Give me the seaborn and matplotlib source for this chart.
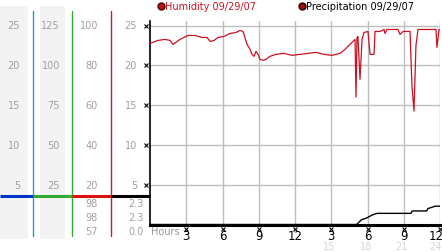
import matplotlib
matplotlib.use('Agg')
import matplotlib.pyplot as plt
import seaborn as sns
import pandas as pd
from matplotlib.patches import Rectangle
from matplotlib.lines import Line2D
from matplotlib.transforms import blended_transform_factory

sns.set_style('white')
plt.rcParams['font.family'] = ['DejaVu Sans']

# ---------------- data ----------------
hum_hours = [0.0, 0.66, 1.24, 1.66, 1.9, 2.48, 3.14, 3.72, 4.3, 4.72, 4.97, 5.3, 5.63,
             6.12, 6.62, 7.12, 7.45, 7.7, 8.03, 8.28, 8.44, 8.61, 8.77, 8.94, 9.1, 9.35,
             9.6, 9.93, 10.43, 11.09, 11.75, 12.41, 13.08, 13.74, 14.4, 15.06, 15.72,
             16.14, 16.55, 16.8, 16.97, 17.05, 17.13, 17.21, 17.38, 17.55, 17.71, 18.04,
             18.21, 18.54, 18.62, 19.03, 19.37, 19.45, 19.61, 20.52, 20.69, 20.94, 21.52,
             21.68, 21.85, 22.01, 22.18, 23.67, 23.75, 23.92, 24.0]
hum_values = [91, 92.5, 93, 92.5, 90.5, 93, 95, 95, 94, 94, 92, 92.5, 94,
              94.5, 96, 96.5, 97.5, 97, 90.5, 88, 85.5, 84.5, 87, 85.5, 83, 82.5,
              83, 84.5, 85.5, 86, 85, 85.5, 86, 86.5, 85.5, 85, 86,
              88, 90.5, 92, 93, 64, 94, 94.5, 73, 93, 96.5, 97,
              85.5, 85.5, 97, 97, 98, 96, 98, 98, 95.5, 97, 97,
              69.5, 57, 90, 98, 98, 89, 98, 98]

precip_hours = [0.0, 17.1, 17.5, 17.9, 18.4, 18.8, 21.6, 21.7, 22.9, 23.0, 23.6, 24.0]
precip_values = [0.0, 0.0, 0.6, 0.8, 1.2, 1.4, 1.4, 1.7, 1.7, 2.0, 2.3, 2.3]

hour_ticks = [3, 6, 9, 12, 15, 18, 21, 24]
hour_labels = ['3', '6', '9', '12', '3', '6', '9', '12']
pm_ticks = [15, 18, 21, 24]
scale_ticks = [25, 20, 15, 10, 5]
col1_labels = ['25', '20', '15', '10', '5']
col2_labels = ['125', '100', '75', '50', '25']
col3_labels = ['100', '80', '60', '40', '20']
col4_labels = ['25', '20', '15', '10', '5']
hum_stats = ['98', '98', '57']
precip_stats = ['2.3', '2.3', '0.0']
legend_labels = ['Humidity 09/29/07', 'Precipitation 09/29/07']

# ---------------- layout ----------------
W, H = 442, 253
fig = plt.figure(figsize=(W / 100, H / 100), dpi=100)
y0_px, ytop_px = 225.5, 22.0
ppu = 7.96
ytop = (y0_px - ytop_px) / ppu


def fx(px):
    return px / W


def fy(py):
    return 1 - py / H


def py2d(py):
    return (y0_px - py) / ppu


ax = fig.add_axes([fx(150), fy(y0_px), 290 / W, (y0_px - ytop_px) / H])
ax.set_xlim(0, 24)
ax.set_ylim(0, ytop)
ax.set_xticks(hour_ticks)
ax.set_yticks(scale_ticks)
ax.set_xticklabels([])
ax.set_yticklabels([])
ax.tick_params(length=0)
ax.grid(True, color='#bdbdbd', lw=1)
for s in ['top', 'right']:
    ax.spines[s].set_visible(False)
ax.spines['left'].set_color('black')
ax.spines['left'].set_linewidth(1.2)
ax.spines['bottom'].set_color('black')
ax.spines['bottom'].set_linewidth(2.2)
ax.set_facecolor('white')

df_p = pd.DataFrame({'hour': precip_hours, 'precip': precip_values})
sns.lineplot(data=df_p, x='hour', y='precip', ax=ax, color='black', lw=1.0,
             estimator=None, sort=False, zorder=5)
ax.set_xlabel('')
ax.set_ylabel('')

ax2 = ax.twinx()
ax2.set_ylim(0, ytop * 4)
df_h = pd.DataFrame({'hour': hum_hours, 'hum': hum_values})
sns.lineplot(data=df_h, x='hour', y='hum', ax=ax2, color='#cc1122', lw=0.9,
             estimator=None, sort=False)
ax2.set_xlim(0, 24)
ax2.set_yticks([])
ax2.set_ylabel('')
ax2.set_xlabel('')
for s in ax2.spines.values():
    s.set_visible(False)

# bottom tick marks and labels
tx = blended_transform_factory(ax.transData, fig.transFigure)
ax.plot(hour_ticks, [fy(229.5)] * len(hour_ticks), transform=tx, ls='none', marker='x',
        ms=2.6, mew=0.8, color='black', clip_on=False)
for h, lab in zip(hour_ticks, hour_labels):
    xh = min(h, 23.65)
    ax.text(xh, fy(237), lab, transform=tx, ha='center', va='center', fontsize=8.5,
            color='black')
for h in pm_ticks:
    xh = min(h - 0.15, 23.6)
    ax.text(xh, fy(247), str(h), transform=tx, ha='center', va='center', fontsize=7,
            color='#d4d4d4')
fig.text(fx(151), fy(232), 'Hours', ha='left', va='center', fontsize=7, color='#999999')

# ---------------- left scale panel ----------------
lax = fig.add_axes([0, fy(y0_px), 150 / W, (y0_px - ytop_px) / H])
lax.set_xlim(0, 150)
lax.set_ylim(0, ytop)
lax.axis('off')

for x0, x1 in [(0, 28), (40, 65)]:
    lax.add_patch(Rectangle((x0, py2d(240)), x1 - x0, py2d(7) - py2d(240),
                            color='#f3f3f3', clip_on=False, zorder=0, lw=0))

for xv, c in [(33, '#3399cc'), (72, '#33aa33'), (111, '#cc2222')]:
    lax.plot([xv, xv], [py2d(12), py2d(237)], color=c, lw=1, clip_on=False)

for x0, x1, c in [(0, 33, '#0033cc'), (33, 72, '#33aa33'), (72, 111, '#dd1111'),
                  (111, 150, 'black')]:
    lax.plot([x0, x1], [py2d(197), py2d(197)], color=c, lw=2.2, clip_on=False,
             solid_capstyle='butt')

for xr, labs in [(20, col1_labels), (60, col2_labels), (98, col3_labels), (137, col4_labels)]:
    for v, lab in zip(scale_ticks, labs):
        lax.text(xr, v, lab, ha='right', va='center', fontsize=7, color='#a0a0a0')

for py, a, b in zip([204, 218, 232], hum_stats, precip_stats):
    lax.text(98, py2d(py), a, ha='right', va='center', fontsize=7, color='#a0a0a0')
    lax.text(144, py2d(py), b, ha='right', va='center', fontsize=7, color='#a0a0a0')

lax.plot([146] * len(scale_ticks), scale_ticks, ls='none', marker='x', ms=2.6, mew=0.8,
         color='black', clip_on=False)

# ---------------- legend ----------------
fig.add_artist(Line2D([fx(161)], [fy(6.5)], marker='o', ms=5, mfc='#bb1111', mec='#440000',
                      transform=fig.transFigure))
fig.text(fx(165), fy(6.5), legend_labels[0], ha='left', va='center', fontsize=7,
         color='#cc1122')
fig.add_artist(Line2D([fx(301.5)], [fy(6.5)], marker='o', ms=5, mfc='#991111', mec='#220000',
                      transform=fig.transFigure))
fig.text(fx(306), fy(6.5), legend_labels[1], ha='left', va='center', fontsize=7,
         color='black')

fig.savefig('out.png', dpi=100)
